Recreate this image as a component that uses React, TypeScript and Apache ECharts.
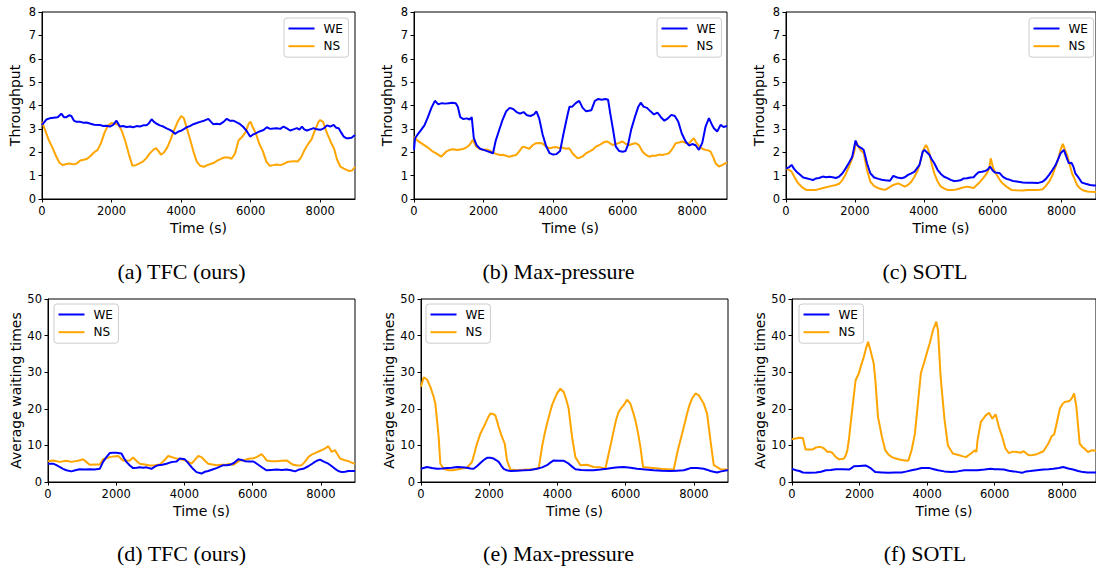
import React, { useEffect, useRef } from "react";
import * as echarts from "echarts";

type Pt = [number, number];

const TIME_TICKS = [0, 2000, 4000, 6000, 8000];
const THROUGHPUT_MAX = 8;
const WAIT_MAX = 50;
const SERIES_NAMES = ["WE", "NS"];
const CAPTIONS = [
  "(a) TFC (ours)",
  "(b) Max-pressure",
  "(c) SOTL",
  "(d) TFC (ours)",
  "(e) Max-pressure",
  "(f) SOTL",
];

const tfcThroughputWE: Pt[] = [[0,3.17],[125,3.4],[220,3.45],[330,3.48],[450,3.5],[557,3.65],[630,3.5],[701,3.5],[780,3.58],[845,3.55],[920,3.35],[989,3.3],[1100,3.3],[1200,3.26],[1278,3.27],[1400,3.22],[1500,3.18],[1662,3.17],[1760,3.12],[1854,3.13],[1950,3.1],[2046,3.17],[2142,3.35],[2238,3.1],[2330,3.12],[2430,3.08],[2530,3.1],[2623,3.07],[2720,3.12],[2815,3.1],[2910,3.15],[3007,3.15],[3080,3.25],[3151,3.41],[3220,3.3],[3295,3.22],[3390,3.15],[3487,3.1],[3580,3.02],[3679,2.96],[3760,2.88],[3823,2.79],[3920,2.88],[4015,2.93],[4090,3.0],[4159,3.07],[4250,3.12],[4352,3.2],[4450,3.25],[4544,3.3],[4660,3.35],[4784,3.43],[4860,3.3],[4928,3.2],[5020,3.22],[5120,3.2],[5220,3.3],[5312,3.43],[5400,3.35],[5504,3.35],[5600,3.28],[5696,3.2],[5790,3.08],[5889,2.9],[5985,2.67],[6060,2.75],[6129,2.8],[6200,2.85],[6273,2.9],[6370,2.95],[6465,3.07],[6560,3.0],[6660,3.02],[6753,3.03],[6850,3.0],[6945,3.1],[7040,3.02],[7137,2.93],[7230,2.98],[7330,3.03],[7400,2.97],[7474,3.1],[7540,2.98],[7618,2.93],[7710,2.98],[7810,3.03],[7900,2.98],[8002,2.96],[8100,3.02],[8194,3.15],[8290,3.1],[8386,3.17],[8460,3.05],[8530,3.03],[8600,2.85],[8674,2.67],[8750,2.6],[8818,2.6],[8900,2.62],[9000,2.74]];
const tfcThroughputNS: Pt[] = [[0,3.3],[100,2.9],[200,2.5],[300,2.2],[400,1.85],[500,1.55],[600,1.45],[700,1.5],[800,1.52],[900,1.48],[1000,1.52],[1100,1.65],[1200,1.68],[1300,1.72],[1400,1.85],[1500,2.0],[1600,2.1],[1700,2.4],[1800,2.85],[1900,3.15],[2000,3.25],[2100,3.22],[2200,3.18],[2300,2.9],[2400,2.45],[2500,1.9],[2600,1.42],[2700,1.45],[2800,1.52],[2900,1.6],[3000,1.75],[3100,1.95],[3200,2.1],[3280,2.18],[3350,2.05],[3420,1.9],[3500,1.98],[3600,2.2],[3700,2.55],[3800,2.95],[3900,3.3],[4000,3.55],[4080,3.45],[4150,3.1],[4250,2.6],[4350,2.05],[4450,1.6],[4550,1.42],[4650,1.38],[4750,1.45],[4850,1.5],[4950,1.55],[5050,1.65],[5150,1.72],[5250,1.78],[5350,1.78],[5450,1.72],[5550,1.95],[5650,2.5],[5750,2.65],[5850,2.85],[5950,3.25],[6000,3.3],[6050,3.1],[6150,2.8],[6250,2.35],[6350,2.05],[6450,1.6],[6550,1.42],[6650,1.45],[6750,1.48],[6850,1.45],[6950,1.5],[7050,1.58],[7150,1.6],[7250,1.62],[7350,1.6],[7450,1.78],[7550,2.1],[7650,2.35],[7750,2.55],[7850,2.95],[7950,3.3],[8000,3.38],[8080,3.3],[8200,2.8],[8300,2.45],[8400,2.15],[8480,1.7],[8580,1.38],[8680,1.3],[8820,1.2],[8920,1.22],[9000,1.38]];

const mpThroughputWE: Pt[] = [[0,2.1],[30,2.6],[100,2.75],[200,2.95],[300,3.15],[400,3.5],[500,3.9],[600,4.2],[700,4.05],[800,4.1],[900,4.08],[1000,4.1],[1100,4.12],[1200,4.1],[1260,3.95],[1330,3.5],[1420,3.42],[1520,3.45],[1600,3.4],[1660,3.5],[1720,2.6],[1800,2.3],[1900,2.15],[2000,2.1],[2100,2.05],[2200,2.0],[2270,1.95],[2350,2.5],[2450,2.95],[2550,3.4],[2650,3.75],[2750,3.9],[2850,3.85],[2950,3.72],[3050,3.65],[3150,3.72],[3250,3.58],[3350,3.55],[3450,3.62],[3520,3.75],[3600,3.45],[3700,2.75],[3800,2.25],[3900,1.96],[4000,1.9],[4100,1.92],[4200,2.05],[4300,2.8],[4400,3.5],[4470,3.95],[4550,3.95],[4650,4.1],[4750,4.2],[4850,3.9],[4950,3.75],[5100,3.8],[5200,4.2],[5300,4.28],[5400,4.25],[5500,4.28],[5580,4.25],[5650,3.6],[5720,3.0],[5800,2.25],[5900,2.05],[6000,2.02],[6080,2.05],[6150,2.3],[6250,3.0],[6350,3.5],[6450,3.95],[6520,4.12],[6600,3.95],[6700,3.9],[6800,3.75],[6900,3.62],[7000,3.7],[7100,3.5],[7200,3.35],[7300,3.45],[7400,3.6],[7500,3.55],[7600,3.3],[7700,2.8],[7810,2.46],[7906,2.29],[8000,2.35],[8097,2.3],[8193,2.1],[8289,2.4],[8384,3.1],[8480,3.46],[8560,3.2],[8623,3.03],[8719,2.89],[8815,3.17],[8900,3.08],[9000,3.12]];
const mpThroughputNS: Pt[] = [[0,2.67],[100,2.5],[250,2.35],[400,2.2],[520,2.05],[640,1.95],[784,1.81],[927,2.03],[1020,2.1],[1118,2.13],[1250,2.1],[1405,2.14],[1500,2.2],[1597,2.31],[1692,2.53],[1788,2.24],[1880,2.15],[1979,2.1],[2080,2.12],[2170,2.08],[2261,1.98],[2361,1.93],[2460,1.88],[2553,1.89],[2650,1.85],[2744,1.81],[2840,1.85],[2935,1.88],[3030,2.05],[3126,2.24],[3220,2.2],[3317,2.15],[3410,2.3],[3509,2.39],[3600,2.4],[3700,2.37],[3800,2.25],[3891,2.17],[3990,2.2],[4082,2.22],[4180,2.18],[4273,2.2],[4370,2.15],[4465,2.17],[4560,1.95],[4704,1.74],[4847,1.82],[4940,1.95],[5038,2.03],[5130,2.1],[5229,2.24],[5320,2.3],[5421,2.39],[5490,2.45],[5564,2.46],[5640,2.38],[5707,2.31],[5800,2.35],[5900,2.4],[5994,2.46],[6090,2.35],[6185,2.31],[6280,2.35],[6377,2.39],[6470,2.3],[6568,2.03],[6660,1.9],[6759,1.81],[6850,1.85],[6950,1.85],[7050,1.9],[7141,1.88],[7240,1.92],[7333,1.96],[7430,2.15],[7524,2.39],[7620,2.42],[7715,2.46],[7810,2.4],[7906,2.38],[7980,2.5],[8049,2.6],[8120,2.4],[8193,2.27],[8290,2.15],[8384,2.1],[8460,2.08],[8528,2.03],[8600,1.8],[8671,1.53],[8767,1.39],[8860,1.45],[8958,1.53],[9000,1.55]];

const sotlThroughputWE: Pt[] = [[0,1.3],[80,1.35],[162,1.46],[230,1.3],[305,1.17],[400,1.05],[500,0.92],[590,0.89],[690,0.85],[781,0.81],[870,0.88],[960,0.9],[1067,0.96],[1160,0.93],[1260,0.95],[1352,0.93],[1450,0.9],[1543,0.96],[1640,1.1],[1733,1.31],[1830,1.55],[1924,1.81],[2019,2.5],[2070,2.3],[2114,2.24],[2190,2.18],[2257,2.1],[2352,1.53],[2448,1.1],[2560,0.92],[2686,0.86],[2780,0.82],[2876,0.8],[3019,0.78],[3114,0.99],[3230,0.92],[3352,0.89],[3450,0.93],[3543,1.03],[3640,1.1],[3733,1.17],[3876,1.46],[3971,2.03],[4020,2.1],[4067,2.03],[4162,1.89],[4230,1.7],[4305,1.53],[4400,1.25],[4495,1.07],[4590,0.95],[4686,0.89],[4780,0.82],[4876,0.77],[4971,0.78],[5067,0.8],[5160,0.88],[5257,0.89],[5350,0.92],[5448,0.93],[5520,1.05],[5590,1.14],[5690,1.17],[5781,1.2],[5850,1.25],[5924,1.39],[6000,1.22],[6067,1.13],[6140,1.12],[6210,1.1],[6300,0.95],[6400,0.86],[6500,0.82],[6590,0.77],[6700,0.75],[6876,0.71],[7000,0.7],[7162,0.7],[7300,0.68],[7448,0.74],[7540,0.85],[7638,1.03],[7740,1.25],[7829,1.46],[7900,1.7],[7971,1.96],[8067,2.1],[8140,1.8],[8210,1.53],[8286,1.55],[8340,1.4],[8400,1.1],[8500,0.9],[8590,0.7],[8700,0.65],[8829,0.6],[8950,0.58],[9000,0.58]];
const sotlThroughputNS: Pt[] = [[0,1.31],[80,1.25],[162,1.17],[260,0.9],[352,0.67],[470,0.5],[590,0.39],[730,0.38],[876,0.39],[1020,0.45],[1162,0.5],[1300,0.55],[1448,0.6],[1540,0.65],[1638,0.81],[1730,1.05],[1829,1.39],[1900,1.65],[1971,1.96],[2038,2.46],[2100,2.25],[2162,2.1],[2257,1.96],[2352,1.24],[2448,0.74],[2560,0.55],[2686,0.46],[2780,0.42],[2876,0.39],[3000,0.5],[3114,0.6],[3257,0.67],[3350,0.6],[3448,0.53],[3540,0.6],[3638,0.74],[3730,0.95],[3829,1.24],[3900,1.6],[3971,2.03],[4020,2.2],[4067,2.31],[4120,2.15],[4162,1.96],[4230,1.5],[4305,1.1],[4400,0.75],[4495,0.53],[4590,0.45],[4686,0.39],[4830,0.38],[4971,0.42],[5110,0.48],[5257,0.53],[5350,0.5],[5448,0.47],[5540,0.6],[5638,0.74],[5730,0.9],[5829,1.1],[5900,1.3],[5943,1.74],[6019,1.31],[6110,1.05],[6210,0.81],[6300,0.65],[6400,0.53],[6543,0.39],[6700,0.37],[6876,0.36],[7020,0.38],[7162,0.39],[7300,0.38],[7448,0.42],[7540,0.55],[7638,0.74],[7730,1.0],[7829,1.39],[7900,1.7],[7971,2.1],[8038,2.36],[8100,2.1],[8162,1.89],[8230,1.5],[8305,1.1],[8380,0.85],[8448,0.6],[8540,0.45],[8638,0.36],[8750,0.32],[8857,0.31],[9000,0.3]];

const tfcWaitWE: Pt[] = [[0,5.0],[147,5.0],[250,4.6],[342,4.1],[440,3.6],[538,3.2],[685,2.9],[800,3.2],[930,3.5],[1080,3.4],[1223,3.5],[1370,3.4],[1517,3.6],[1614,5.5],[1712,6.8],[1810,7.9],[1900,8.0],[2006,8.0],[2153,7.8],[2230,6.5],[2299,5.5],[2400,4.5],[2495,3.8],[2600,3.9],[2691,4.0],[2790,3.9],[2886,4.0],[2960,3.8],[3033,3.6],[3130,4.2],[3229,4.6],[3350,4.7],[3474,5.0],[3570,5.3],[3669,5.5],[3770,5.6],[3865,6.4],[4012,6.2],[4080,5.5],[4159,4.6],[4250,3.6],[4354,2.7],[4501,2.3],[4600,2.8],[4697,3.0],[4820,3.4],[4941,3.8],[5040,4.2],[5137,4.6],[5240,4.6],[5333,4.7],[5450,5.2],[5577,6.2],[5680,6.0],[5773,5.7],[5900,5.6],[6018,5.6],[6090,5.2],[6164,4.7],[6290,3.9],[6409,3.2],[6550,3.3],[6703,3.4],[6850,3.3],[6996,3.4],[7120,3.2],[7241,2.9],[7360,3.4],[7485,3.6],[7630,4.3],[7779,5.2],[7880,5.8],[7975,6.1],[8100,5.5],[8219,5.0],[8320,4.3],[8415,3.6],[8510,3.0],[8611,2.7],[8710,2.8],[8806,3.0],[8900,3.0],[9000,3.0]];
const tfcWaitNS: Pt[] = [[0,5.7],[147,5.9],[342,5.5],[538,5.8],[685,5.5],[881,5.8],[1027,6.2],[1120,5.5],[1223,4.7],[1370,4.8],[1517,4.8],[1614,6.2],[1712,6.5],[1810,6.8],[1930,7.0],[2055,7.1],[2130,6.5],[2202,5.9],[2300,5.8],[2397,5.9],[2495,6.7],[2590,5.8],[2691,5.0],[2840,4.8],[2984,4.5],[3130,4.6],[3278,4.8],[3400,5.8],[3522,7.1],[3640,6.8],[3767,6.4],[3890,6.2],[4012,5.9],[4110,5.5],[4207,5.0],[4300,6.0],[4403,7.1],[4501,6.8],[4600,5.8],[4697,5.0],[4820,4.8],[4941,4.6],[5090,4.7],[5235,4.8],[5330,4.9],[5430,4.7],[5530,5.3],[5626,5.9],[5770,6.0],[5920,6.4],[6020,6.5],[6115,6.8],[6262,7.6],[6340,6.8],[6409,5.9],[6550,5.7],[6703,5.7],[6850,5.8],[6996,5.9],[7090,5.3],[7192,4.7],[7310,4.5],[7436,4.6],[7530,5.5],[7632,6.8],[7730,7.5],[7828,7.9],[7950,8.4],[8072,8.9],[8150,9.3],[8219,9.8],[8317,8.2],[8415,8.7],[8490,7.5],[8562,6.4],[8680,6.0],[8806,5.7],[8900,5.3],[9000,5.0]];

const mpWaitWE: Pt[] = [[0,3.6],[176,4.1],[320,3.8],[469,3.6],[620,3.7],[762,3.8],[900,3.9],[1056,4.1],[1200,4.0],[1349,3.9],[1450,3.7],[1544,3.6],[1640,4.3],[1740,5.2],[1840,6.0],[1935,6.6],[2030,6.6],[2131,6.4],[2200,6.0],[2278,5.5],[2350,4.5],[2424,3.6],[2520,3.2],[2620,3.0],[2815,3.1],[3011,3.2],[3200,3.3],[3402,3.6],[3550,4.0],[3695,4.6],[3790,5.3],[3891,5.9],[4040,5.8],[4184,5.8],[4260,5.4],[4330,5.0],[4430,4.2],[4526,3.5],[4700,3.3],[4868,3.2],[5060,3.2],[5259,3.4],[5450,3.6],[5650,3.9],[5800,4.0],[5943,4.1],[6140,3.9],[6334,3.6],[6580,3.4],[6823,3.2],[7060,3.1],[7312,3.0],[7500,3.1],[7703,3.2],[7800,3.5],[7899,3.8],[8100,3.8],[8289,3.6],[8400,3.3],[8485,3.0],[8580,2.8],[8680,2.6],[8800,2.9],[8974,3.2],[9000,3.2]];
const mpWaitNS: Pt[] = [[0,26],[78,28.6],[176,28],[274,26],[371,23.3],[420,21.4],[469,16.9],[518,12.3],[567,5],[665,3.6],[811,3.2],[930,3.2],[1056,3.4],[1200,3.7],[1349,3.9],[1496,5.5],[1570,8.0],[1642,10.5],[1740,13.2],[1887,16],[1960,17.5],[2033,18.7],[2110,18.6],[2180,18.2],[2278,15],[2375,12.3],[2454,10.5],[2522,5.9],[2620,3.4],[2815,3.2],[3109,3.4],[3300,3.5],[3451,3.8],[3548,9.6],[3620,13],[3695,16],[3770,18.6],[3842,21],[3920,22.8],[3988,24.2],[4086,25.5],[4184,24.6],[4260,22.5],[4330,20],[4380,16],[4428,12.3],[4526,6.8],[4673,4.6],[4868,4.7],[5063,4.1],[5259,4.0],[5406,3.6],[5503,7.8],[5580,11],[5650,14.1],[5720,17],[5797,19.2],[5870,20.2],[5943,21],[6041,22.5],[6139,21.4],[6210,19.3],[6285,16.9],[6360,13.5],[6432,9.6],[6510,4.1],[6725,3.9],[7019,3.6],[7312,3.4],[7410,3.4],[7507,7.8],[7580,10.5],[7654,13.2],[7730,16],[7801,18.7],[7870,21],[7947,22.8],[8045,24.2],[8143,23.7],[8220,22.5],[8289,21.4],[8387,18.7],[8485,11.4],[8583,4.6],[8778,3.5],[8974,3.4],[9000,3.4]];

const sotlWaitWE: Pt[] = [[0,3.6],[120,3.2],[220,3.0],[322,2.6],[500,2.5],[712,2.6],[860,2.8],[1005,3.2],[1150,3.3],[1298,3.5],[1500,3.5],[1688,3.4],[1760,3.8],[1834,4.3],[2000,4.4],[2176,4.5],[2250,4.2],[2322,3.8],[2400,3.2],[2468,2.7],[2660,2.6],[2859,2.5],[3050,2.6],[3249,2.6],[3400,2.9],[3541,3.2],[3690,3.5],[3834,3.8],[3950,3.8],[4078,3.8],[4200,3.5],[4322,3.2],[4510,2.9],[4712,2.7],[4900,2.9],[5102,3.2],[5300,3.2],[5493,3.2],[5700,3.4],[5883,3.6],[6000,3.5],[6100,3.5],[6273,3.4],[6420,3.1],[6566,2.9],[6700,2.7],[6810,2.5],[6930,2.9],[7054,3.0],[7250,3.2],[7444,3.4],[7600,3.5],[7737,3.6],[7900,3.8],[8029,4.1],[8180,3.7],[8322,3.4],[8470,3.0],[8615,2.7],[8750,2.6],[8888,2.6],[9000,2.6]];
const sotlWaitNS: Pt[] = [[0,11.7],[100,11.9],[224,12.1],[322,12.0],[360,10.5],[400,8.9],[500,8.9],[615,8.9],[700,9.4],[810,9.6],[900,9.4],[956,9.1],[1054,8.2],[1130,8.3],[1200,7.9],[1298,6.8],[1395,6.2],[1470,6.3],[1541,6.4],[1600,7.5],[1639,8.7],[1690,12],[1737,16],[1810,22],[1883,27.8],[1980,29.7],[2050,32],[2127,34.2],[2190,36.5],[2254,38.3],[2322,36],[2420,32.4],[2468,27.8],[2546,17.8],[2663,12.3],[2761,8.7],[2856,7.5],[2956,6.8],[3050,6.5],[3151,6.2],[3250,6.0],[3346,5.9],[3444,5.8],[3541,8.7],[3639,13.2],[3737,22.4],[3815,29.7],[3932,33.3],[4000,35.5],[4078,37.9],[4176,41.5],[4273,43.8],[4322,41.5],[4400,28.7],[4517,16.9],[4615,10],[4761,7.8],[4956,7.3],[5060,7.0],[5151,6.8],[5298,7.8],[5415,8.7],[5460,8.2],[5493,11.4],[5590,16.4],[5737,18.2],[5834,18.9],[5932,17.3],[6029,18.5],[6127,15],[6224,12.3],[6322,9.1],[6420,7.9],[6540,8.3],[6663,8.2],[6760,8.0],[6859,8.4],[7005,7.3],[7130,7.4],[7249,7.6],[7444,8.4],[7590,10.5],[7688,12.5],[7760,13.0],[7834,16],[7932,20.1],[8000,21.2],[8078,21.9],[8150,22],[8224,22.2],[8290,23],[8351,24.2],[8420,20.5],[8517,10.5],[8600,9.5],[8663,9.1],[8761,8.2],[8888,8.7],[9000,8.5]];

const WE_COLOR = "#0000ff";
const NS_COLOR = "#ffa500";
const SANS = "DejaVu Sans";
const SERIF = "Liberation Serif";

const PANELS = [
  { left: 42, top: 12, width: 313, height: 187, yMax: THROUGHPUT_MAX, yStep: 1, yName: "Throughput", nameGap: 20, we: tfcThroughputWE, ns: tfcThroughputNS, lg: [284, 18], cap: [181.5, 271] },
  { left: 414, top: 12, width: 313, height: 187, yMax: THROUGHPUT_MAX, yStep: 1, yName: "Throughput", nameGap: 20, we: mpThroughputWE, ns: mpThroughputNS, lg: [657, 18], cap: [558.5, 271] },
  { left: 786, top: 12, width: 316, height: 187, yMax: THROUGHPUT_MAX, yStep: 1, yName: "Throughput", nameGap: 20, we: sotlThroughputWE, ns: sotlThroughputNS, lg: [1029, 18], cap: [925, 271] },
  { left: 48, top: 299, width: 307, height: 183, yMax: WAIT_MAX, yStep: 10, yName: "Average waiting times", nameGap: 25, we: tfcWaitWE, ns: tfcWaitNS, lg: [54, 304], cap: [181.5, 553] },
  { left: 421, top: 299, width: 307, height: 183, yMax: WAIT_MAX, yStep: 10, yName: "Average waiting times", nameGap: 25, we: mpWaitWE, ns: mpWaitNS, lg: [426, 304], cap: [558.5, 553] },
  { left: 792, top: 299, width: 307, height: 183, yMax: WAIT_MAX, yStep: 10, yName: "Average waiting times", nameGap: 25, we: sotlWaitWE, ns: sotlWaitNS, lg: [799, 304], cap: [925, 553] },
];

const plain = (v: number) => String(v);

function buildOption() {
  const grid: any[] = [];
  const xAxis: any[] = [];
  const yAxis: any[] = [];
  const series: any[] = [];
  const legend: any[] = [];
  const graphic: any[] = [];
  PANELS.forEach((p, i) => {
    grid.push({
      left: p.left, top: p.top, width: p.width, height: p.height,
      show: true, borderColor: "#000", borderWidth: 1, backgroundColor: "transparent",
    });
    xAxis.push({
      type: "value", gridIndex: i, min: 0, max: 9000,
      axisLine: { show: true, onZero: false, lineStyle: { color: "#000", width: 1 } },
      axisTick: { show: true, length: 3.5, customValues: TIME_TICKS, lineStyle: { color: "#000", width: 1 } },
      axisLabel: { customValues: TIME_TICKS, formatter: plain, fontSize: 11.5, fontFamily: SANS, color: "#000", margin: 6 },
      splitLine: { show: false },
      name: "Time (s)", nameLocation: "middle", nameGap: 22,
      nameTextStyle: { fontSize: 14, fontFamily: SANS, color: "#000" },
    });
    yAxis.push({
      type: "value", gridIndex: i, min: 0, max: p.yMax, interval: p.yStep,
      axisLine: { show: true, onZero: false, lineStyle: { color: "#000", width: 1 } },
      axisTick: { show: true, length: 3.5, lineStyle: { color: "#000", width: 1 } },
      axisLabel: { formatter: plain, fontSize: 11.5, fontFamily: SANS, color: "#000", margin: 6 },
      splitLine: { show: false },
      name: p.yName, nameLocation: "middle", nameGap: p.nameGap, nameRotate: 90,
      nameTextStyle: { fontSize: 14, fontFamily: SANS, color: "#000" },
    });
    [p.we, p.ns].forEach((d, k) => {
      const color = k === 0 ? WE_COLOR : NS_COLOR;
      series.push({
        type: "line", name: SERIES_NAMES[k], xAxisIndex: i, yAxisIndex: i,
        data: d, showSymbol: false, symbol: "none", clip: true,
        lineStyle: { color, width: 2 }, itemStyle: { color },
        z: k === 0 ? 3 : 2,
      });
    });
    legend.push({
      data: SERIES_NAMES.map((n) => ({ name: n })),
      left: p.lg[0], top: p.lg[1], orient: "vertical",
      icon: "rect", itemWidth: 26, itemHeight: 2, itemGap: 3.7,
      selectedMode: false,
      backgroundColor: "rgba(255,255,255,0.8)",
      borderColor: "#cccccc", borderWidth: 1, borderRadius: 3,
      padding: [3.5, 5.5, 4, 4.5],
      itemStyle: { borderWidth: 0 },
      textStyle: { fontSize: 12, fontFamily: SANS, color: "#000", lineHeight: 14, padding: [0, 0, 0, 4] },
    });
    graphic.push({
      type: "text", x: p.cap[0], y: p.cap[1],
      style: {
        text: CAPTIONS[i], fill: "#000", fontSize: 22, fontFamily: SERIF,
        align: "center", verticalAlign: "middle",
        textAlign: "center", textVerticalAlign: "middle",
      },
    });
  });
  return { animation: false, backgroundColor: "#fff", grid, xAxis, yAxis, series, legend, graphic };
}

export default function App() {
  const ref = useRef<HTMLDivElement>(null);
  useEffect(() => {
    if (!ref.current) return;
    const chart = echarts.init(ref.current, undefined, { renderer: "svg" });
    chart.setOption(buildOption() as any);
    return () => chart.dispose();
  }, []);
  return (
    <div
      ref={ref}
      style={{ position: "fixed", left: 0, top: 0, width: 1096, height: 569, background: "#fff" }}
    />
  );
}
